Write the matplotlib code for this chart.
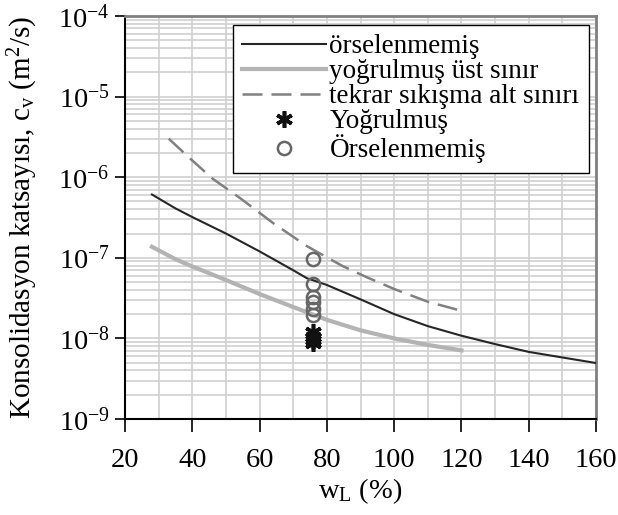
import matplotlib
matplotlib.use("Agg")
import matplotlib.pyplot as plt
import numpy as np
from matplotlib.ticker import LogLocator, FixedLocator, NullFormatter, FuncFormatter

plt.rcParams['font.family'] = ['Liberation Serif', 'DejaVu Serif']
plt.rcParams['mathtext.fontset'] = 'custom'
plt.rcParams['mathtext.rm'] = 'Liberation Serif'
plt.rcParams['mathtext.it'] = 'Liberation Serif:italic'

# örselenmemiş (undisturbed) trend
wl_ors = [28, 35, 40, 50, 60, 70, 74, 80, 90, 100, 110, 120, 130, 140, 150, 160]
cv_ors = [6.1e-7, 4.1e-7, 3.2e-7, 2.0e-7, 1.2e-7, 7.0e-8, 5.6e-8, 4.6e-8, 3.05e-8,
          2.0e-8, 1.42e-8, 1.08e-8, 8.5e-9, 6.8e-9, 5.8e-9, 4.95e-9]

# yoğrulmuş üst sınır (remoulded upper bound)
wl_yog = [28, 35, 40, 50, 60, 70, 80, 90, 100, 110, 120]
cv_yog = [1.37e-7, 9.6e-8, 7.8e-8, 5.3e-8, 3.55e-8, 2.45e-8, 1.7e-8, 1.26e-8,
          1.0e-8, 8.3e-9, 7.1e-9]

# tekrar sıkışma alt sınırı (recompression lower bound)
wl_tek = [33, 39.3, 46, 54.2, 64.1, 74, 84.4, 92, 100, 110, 120]
cv_tek = [3.0e-6, 1.71e-6, 9.6e-7, 5.5e-7, 2.68e-7, 1.4e-7, 8.0e-8, 5.7e-8,
          4.1e-8, 2.85e-8, 2.2e-8]

# measured points
wl_pts_yog = [76, 76, 76, 76]
cv_pts_yog = [1.2e-8, 1.05e-8, 9.5e-9, 8.8e-9]
wl_pts_ors = [76, 76, 76, 76, 76, 76]
cv_pts_ors = [9.6e-8, 4.7e-8, 3.3e-8, 2.8e-8, 2.3e-8, 1.95e-8]

fig = plt.figure(figsize=(6.18, 5.15), dpi=100)
ax = fig.add_axes([0.2023, 0.1864, 0.9644 - 0.2023, 0.969 - 0.1864])

ax.plot(wl_ors, cv_ors, color='#262626', lw=1.5, label='örselenmemiş', zorder=3)
ax.plot(wl_yog, cv_yog, color='#b3b3b3', lw=3.0, label='yoğrulmuş üst sınır', zorder=3)
ax.plot(wl_tek, cv_tek, color='#808080', lw=1.8, dashes=(8, 3.6),
        label='tekrar sıkışma alt sınırı', zorder=3)
ax.plot(wl_pts_yog, cv_pts_yog, ls='none', marker=(6, 2, 0), ms=12, mew=2.6,
        color='#111111', label='Yoğrulmuş', zorder=4)
ax.plot(wl_pts_ors, cv_pts_ors, ls='none', marker='o', ms=9.5, mew=1.8,
        mfc='none', mec='#666666', label='Örselenmemiş', zorder=4)

ax.set_yscale('log')
ax.set_xlim(20, 160)
ax.set_ylim(1e-9, 1e-4)

ax.xaxis.set_major_locator(FixedLocator(np.arange(20, 161, 20)))
ax.xaxis.set_minor_locator(FixedLocator(np.arange(30, 160, 20)))
ax.yaxis.set_major_locator(LogLocator(base=10, numticks=10))
ax.yaxis.set_minor_locator(LogLocator(base=10, subs=np.arange(2, 10), numticks=20))
ax.yaxis.set_minor_formatter(NullFormatter())
ax.yaxis.set_major_formatter(FuncFormatter(
    lambda v, p: r'$\mathregular{10^{%d}}$' % int(round(np.log10(v)))))

ax.grid(True, which='both', color='#d0d0d0', lw=1.2, zorder=0)
ax.set_axisbelow(True)

ax.tick_params(which='major', direction='out', length=7, width=1.2, labelsize=20.5,
               color='black', pad=4)
ax.tick_params(which='minor', length=0)
ax.tick_params(axis='x', length=9, pad=12)

for s in ('left', 'bottom'):
    ax.spines[s].set_color('black')
    ax.spines[s].set_linewidth(1.5)
for s in ('top', 'right'):
    ax.spines[s].set_color('#808080')
    ax.spines[s].set_linewidth(2.0)

ax.set_xlabel(r'w$_\mathregular{L}$ (%)', fontsize=20.5, labelpad=2)
ax.set_ylabel(r'Konsolidasyon katsayısı, c$_\mathregular{v}$ (m$^\mathregular{2}$/s)',
              fontsize=21, labelpad=13)

leg = ax.legend(loc='upper left', bbox_to_anchor=(0.2287, 0.9777), borderaxespad=0,
                fontsize=19.5, labelspacing=0.0, handlelength=3.1, handletextpad=0.12,
                borderpad=0.35, fancybox=False, framealpha=1, edgecolor='black')
leg.get_frame().set_linewidth(1.0)

fig.savefig('out.png', dpi=100)
